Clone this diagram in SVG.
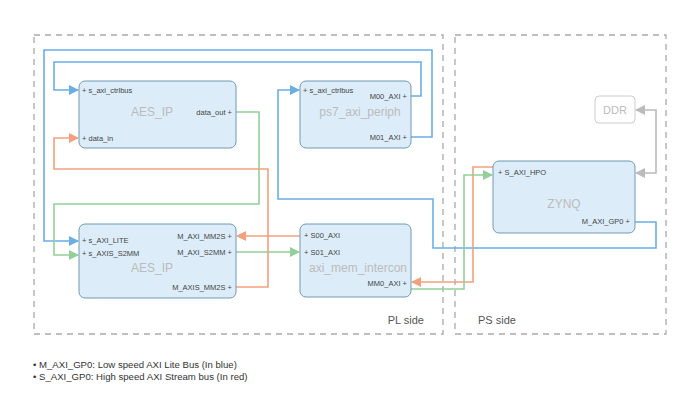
<svg xmlns="http://www.w3.org/2000/svg" width="700" height="408" viewBox="0 0 700 408">
<style>
text{font-family:"Liberation Sans",Arial,sans-serif}
.reg{fill:none;stroke:#aaa;stroke-width:1.3;stroke-dasharray:6,5}
.box{fill:#dcedf9;stroke:#6f9ab3;stroke-width:1}
.t{font-size:12px;fill:#bbb;text-anchor:middle}
.p{font-size:7.5px;fill:#444}
.r{text-anchor:end}
.b{fill:none;stroke:#6aaee6;stroke-width:1.6}
.g{fill:none;stroke:#93cf99;stroke-width:1.6}
.o{fill:none;stroke:#f3a07c;stroke-width:1.6}
.k{fill:none;stroke:#bbb;stroke-width:1.6}
</style>
<defs>
<marker id="ab" markerWidth="10" markerHeight="10" refX="9" refY="5" orient="auto" markerUnits="userSpaceOnUse"><path d="M0,0L10,5L0,10z" fill="#6aaee6"/></marker>
<marker id="ag" markerWidth="10" markerHeight="10" refX="9" refY="5" orient="auto" markerUnits="userSpaceOnUse"><path d="M0,0L10,5L0,10z" fill="#93cf99"/></marker>
<marker id="ao" markerWidth="10" markerHeight="10" refX="9" refY="5" orient="auto" markerUnits="userSpaceOnUse"><path d="M0,0L10,5L0,10z" fill="#f3a07c"/></marker>
<marker id="ak" markerWidth="10" markerHeight="10" refX="9" refY="5" orient="auto-start-reverse" markerUnits="userSpaceOnUse"><path d="M0,0L10,5L0,10z" fill="#bbb"/></marker>
</defs>
<rect width="700" height="408" fill="#fff"/>
<g id="regions">
<rect class="reg" x="34" y="35" width="409" height="299"/>
<rect class="reg" x="455" y="35" width="211" height="299"/>
<text x="424" y="324" font-size="11" fill="#555" text-anchor="end">PL side</text>
<text x="478" y="324" font-size="11" fill="#555">PS side</text>
</g>
<g id="connectors">
<path class="b" d="M411,137H432V50H44V241H78" marker-end="url(#ab)"/>
<path class="b" d="M411,96H421V62H54V90H78" marker-end="url(#ab)"/>
<path class="b" d="M635,222H656V248H433V199H278V90H299" marker-end="url(#ab)"/>
<path class="g" d="M236,112H259V204H54V255H78" marker-end="url(#ag)"/>
<path class="g" d="M236,252H299" marker-end="url(#ag)"/>
<path class="o" d="M300,236H237" marker-end="url(#ao)"/>
<path class="o" d="M236,287H268V169H54V138H78" marker-end="url(#ao)"/>
<path class="o" d="M493,167H473V282H412" marker-end="url(#ao)"/>
<path class="g" d="M411,289H464V175H492" marker-end="url(#ag)"/>
<path class="k" d="M636,110H656V173H636" marker-start="url(#ak)" marker-end="url(#ak)"/>
</g>
<g id="aes_top">
<rect class="box" x="79" y="81" width="157" height="67" rx="6"/>
<text class="t" x="152" y="116">AES_IP</text>
<text class="p" x="82" y="93">+ s_axi_ctrlbus</text>
<text class="p" x="82" y="141">+ data_in</text>
<text class="p r" x="232" y="115">data_out +</text>
</g>
<g id="ps7">
<rect class="box" x="300" y="81" width="111" height="67" rx="6"/>
<text class="t" x="360" y="116">ps7_axi_periph</text>
<text class="p" x="303" y="93">+ s_axi_ctrlbus</text>
<text class="p r" x="407" y="99">M00_AXI +</text>
<text class="p r" x="407" y="140">M01_AXI +</text>
</g>
<g id="aes_bottom">
<rect class="box" x="79" y="224" width="157" height="74" rx="6"/>
<text class="t" x="152" y="272">AES_IP</text>
<text class="p" x="82" y="243">+ s_AXI_LITE</text>
<text class="p" x="82" y="256">+ s_AXIS_S2MM</text>
<text class="p r" x="232" y="239">M_AXI_MM2S +</text>
<text class="p r" x="232" y="255">M_AXI_S2MM +</text>
<text class="p r" x="232" y="290">M_AXIS_MM2S +</text>
</g>
<g id="axi_mem">
<rect class="box" x="300" y="224" width="111" height="73" rx="6"/>
<text class="t" x="358" y="272">axi_mem_intercon</text>
<text class="p" x="304" y="238">+ S00_AXI</text>
<text class="p" x="304" y="255">+ S01_AXI</text>
<text class="p r" x="407" y="286">MM0_AXI +</text>
</g>
<g id="zynq">
<rect class="box" x="493" y="161" width="142" height="72" rx="6"/>
<text class="t" x="564" y="208">ZYNQ</text>
<text class="p" x="498" y="175">+ S_AXI_HPO</text>
<text class="p r" x="630" y="224">M_AXI_GP0 +</text>
</g>
<g id="ddr">
<rect x="595" y="96" width="40" height="27" rx="4" fill="#fff" stroke="#ccc"/>
<text x="615" y="114" font-size="11" fill="#bbb" text-anchor="middle">DDR</text>
</g>
<g id="legend" font-size="9.6" fill="#333">
<text x="33" y="368">• M_AXI_GP0: Low speed AXI Lite Bus (In blue)</text>
<text x="33" y="380">• S_AXI_GP0: High speed AXI Stream bus (In red)</text>
</g>
</svg>
